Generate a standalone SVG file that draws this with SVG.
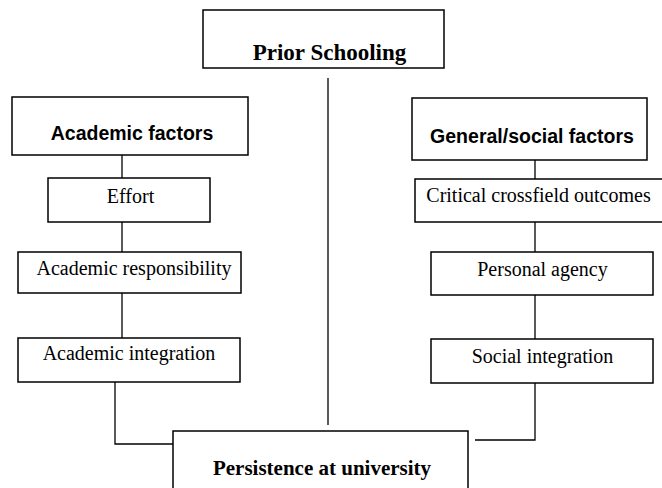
<svg xmlns="http://www.w3.org/2000/svg" width="662" height="488" viewBox="0 0 662 488">
<style>
.box{fill:#fff;stroke:#000;stroke-width:1.5}
.ser{font-family:"Liberation Serif","Times New Roman",serif;font-size:20px;fill:#000;text-anchor:middle}
.serb{font-family:"Liberation Serif","Times New Roman",serif;font-weight:bold;fill:#000;text-anchor:middle}
.sanb{font-family:"Liberation Sans",Arial,sans-serif;font-weight:bold;font-size:19.5px;fill:#000;text-anchor:middle}
.conn{fill:none;stroke:#000;stroke-width:1.3}
</style>
<rect width="662" height="488" fill="#fff"/>
<g id="connectors">
<line class="conn" x1="328" y1="78" x2="328" y2="425"/>
<line class="conn" x1="122" y1="155" x2="122" y2="178"/>
<line class="conn" x1="122" y1="222" x2="122" y2="252"/>
<line class="conn" x1="122" y1="293" x2="122" y2="338"/>
<path class="conn" d="M115 382 V444 H173"/>
<line class="conn" x1="535" y1="160" x2="535" y2="179"/>
<line class="conn" x1="535" y1="222" x2="535" y2="252"/>
<line class="conn" x1="535" y1="295" x2="535" y2="339"/>
<path class="conn" d="M535 383 V440 H475"/>
</g>
<g id="prior-schooling">
<rect class="box" x="203" y="10" width="241" height="58"/>
<text class="serb" x="329.5" y="60" font-size="23">Prior Schooling</text>
</g>
<g id="academic-factors">
<rect class="box" x="12" y="97" width="236" height="58"/>
<text class="sanb" x="132" y="140">Academic factors</text>
</g>
<g id="effort">
<rect class="box" x="48" y="178" width="162" height="44"/>
<text class="ser" x="130.5" y="203">Effort</text>
</g>
<g id="academic-responsibility">
<rect class="box" x="18" y="252" width="223" height="41"/>
<text class="ser" x="134" y="275">Academic responsibility</text>
</g>
<g id="academic-integration">
<rect class="box" x="18" y="338" width="222" height="44"/>
<text class="ser" x="129" y="360">Academic integration</text>
</g>
<g id="general-social-factors">
<rect class="box" x="412" y="98" width="235" height="62"/>
<text class="sanb" x="532" y="143">General/social factors</text>
</g>
<g id="critical-crossfield-outcomes">
<rect class="box" x="415" y="179" width="260" height="43"/>
<text class="ser" x="538.5" y="202">Critical crossfield outcomes</text>
</g>
<g id="personal-agency">
<rect class="box" x="431" y="252" width="222" height="43"/>
<text class="ser" x="542.5" y="276">Personal agency</text>
</g>
<g id="social-integration">
<rect class="box" x="431" y="339" width="222" height="44"/>
<text class="ser" x="542.5" y="363">Social integration</text>
</g>
<g id="persistence-at-university">
<rect class="box" x="173" y="431" width="295" height="70"/>
<text class="serb" x="322" y="475" font-size="21">Persistence at university</text>
</g>
</svg>
